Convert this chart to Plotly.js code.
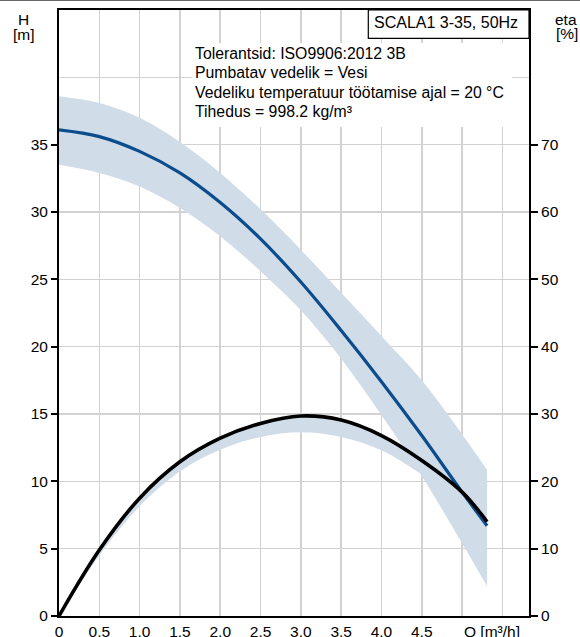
<!DOCTYPE html>
<html><head><meta charset="utf-8">
<script src="https://cdn.plot.ly/plotly-3.0.1.min.js"></script>
<style>
html,body{margin:0;padding:0;background:#fff;}
#chart{width:580px;height:637px;}
#topline{position:absolute;left:0;top:0;width:580px;height:1px;background:#666;z-index:5;}
</style>
</head><body>
<div id="topline"></div>
<div id="chart"></div>
<script>
// ---- data ----
const flowQ      = [0, 0.5, 1.0, 1.5, 2.0, 2.5, 3.0, 3.5, 4.0, 4.5, 5.0, 5.31];
const headH      = [36.1, 35.6, 34.5, 32.9, 30.7, 28.0, 24.8, 21.2, 17.4, 13.4, 9.2, 6.7];
const headUpper  = [38.6, 38.1, 37.0, 35.2, 32.9, 30.2, 27.2, 24.0, 20.8, 17.5, 13.5, 10.85];
const headLower  = [33.5, 32.9, 31.9, 30.3, 28.2, 25.6, 22.7, 19.1, 14.9, 10.4, 5.4, 2.2];
const etaPct     = [0, 9.8, 17.5, 22.9, 26.4, 28.6, 29.7, 29.1, 26.8, 23.1, 18.4, 14.0];
const etaLower   = [0, 9.0, 16.3, 21.5, 24.7, 26.6, 27.3, 26.6, 24.6, 21.0, 16.7, 12.8];

const xGridVals  = [0, 0.5, 1.0, 1.5, 2.0, 2.5, 3.0, 3.5, 4.0, 4.5, 5.0, 5.5];
const xTickText  = ['0', '0.5', '1.0', '1.5', '2.0', '2.5', '3.0', '3.5', '4.0', '4.5', '', ''];
const hTickVals  = [0, 5, 10, 15, 20, 25, 30, 35];
const etaTickVals= [0, 10, 20, 30, 40, 50, 60, 70];
const xAxisLabel = 'Q [m³/h]';
const hTitle     = ['H', '[m]'];
const etaTitle   = ['eta', '[%]'];
const boxTitle   = 'SCALA1 3-35, 50Hz';
const infoLines  = [
  'Tolerantsid: ISO9906:2012 3B',
  'Pumbatav vedelik = Vesi',
  'Vedeliku temperatuur töötamise ajal = 20 °C',
  'Tihedus = 998.2 kg/m³'
];

// ---- styles ----
const FONT = 'Liberation Sans, Arial, sans-serif';
const BAND = 'rgb(208,220,232)';
const BLUE = '#0a4c8c';
const GRID = 'rgb(210,210,210)';

const traces = [
  {x: flowQ, y: headLower, xaxis:'x', yaxis:'y', mode:'lines', line:{width:0, shape:'spline', color:BAND}, hoverinfo:'skip'},
  {x: flowQ, y: headUpper, xaxis:'x', yaxis:'y', mode:'lines', line:{width:0, shape:'spline', color:BAND}, fill:'tonexty', fillcolor:BAND, hoverinfo:'skip'},
  {x: flowQ, y: etaLower, xaxis:'x', yaxis:'y2', mode:'lines', line:{width:0, shape:'spline', color:BAND}, hoverinfo:'skip'},
  {x: flowQ, y: etaPct, xaxis:'x', yaxis:'y2', mode:'lines', line:{width:0, shape:'spline', color:BAND}, fill:'tonexty', fillcolor:BAND, hoverinfo:'skip'},
  {x: flowQ, y: headH, xaxis:'x', yaxis:'y3', mode:'lines', line:{width:3.2, shape:'spline', color:BLUE}},
  {x: flowQ, y: etaPct, xaxis:'x', yaxis:'y4', mode:'lines', line:{width:3.6, shape:'spline', color:'#000'}}
];

const PLOT_TOP = 10, PLOT_H = 606, PLOT_L = 59, PLOT_W = 470;
function py(pix){ return (PLOT_TOP + PLOT_H - pix) / PLOT_H; }
function px(pix){ return (pix - PLOT_L) / PLOT_W; }

const infoBaselines = [59.3, 78.3, 98.3, 117.3];
const INFO_FS = 15.8;
const infoAnns = infoLines.map((t, i) => ({
  xref:'paper', yref:'paper', x: px(193), y: py(infoBaselines[i] - 0.35 * INFO_FS),
  xanchor:'left', yanchor:'middle', align:'left', text: t, showarrow:false, font:{size: INFO_FS}
}));

const layout = {
  width: 580, height: 637,
  margin: {l: PLOT_L, r: 580 - PLOT_L - PLOT_W, t: PLOT_TOP, b: 637 - PLOT_TOP - PLOT_H, pad: 0},
  showlegend: false,
  paper_bgcolor: '#fff', plot_bgcolor: '#fff',
  font: {family: FONT, size: 15.5, color: '#000'},
  hovermode: false,
  xaxis: {range: [0, 5.83], tickvals: xGridVals, ticktext: xTickText, ticks: '',
          showgrid: true, gridcolor: GRID, gridwidth: 1.5, showline: true, linecolor: '#000',
          linewidth: 2, mirror: true, zeroline: false, fixedrange: true, tickfont:{size:15.5}},
  yaxis: {range: [0, 45], tick0: 0, dtick: 5, showgrid: true, gridcolor: GRID, gridwidth: 1.5,
          showticklabels: false, ticks: '', showline: true, linecolor: '#000', linewidth: 2, zeroline: false},
  yaxis2: {overlaying: 'y', side: 'right', range: [0, 90], tickvals: etaTickVals, ticks: 'outside',
           ticklen: 7, tickwidth: 2, tickcolor: '#000', showline: true, linecolor: '#000', linewidth: 2,
           showgrid: false, zeroline: false, tickfont:{size:15.5}},
  yaxis3: {overlaying: 'y', side: 'left', range: [0, 45], tickvals: hTickVals, ticks: 'outside',
           ticklen: 7, tickwidth: 2, tickcolor: '#000', showline: false, showgrid: false, zeroline: false,
           tickfont:{size:15.5}},
  yaxis4: {overlaying: 'y', side: 'right', range: [0, 90], visible: false},
  shapes: [
    {type:'rect', xref:'paper', yref:'paper', x0: px(192), x1: px(512), y0: py(127), y1: py(43),
     line:{width:0}, fillcolor:'#fff', layer:'above'},
    {type:'rect', xref:'paper', yref:'paper', x0: px(368.3), x1: 1, y0: py(38.3), y1: 1,
     line:{color:'#000', width:1.2}, fillcolor:'#fff', layer:'above'}
  ],
  annotations: [
    {xref:'paper', yref:'paper', x: px(372), y: py(22.1), xanchor:'left', yanchor:'middle',
     text: boxTitle, showarrow:false, font:{size:16}},
    ...infoAnns,
    {xref:'paper', yref:'paper', x: px(23.5), y: py(19.0), xanchor:'center', yanchor:'middle', text: hTitle[0], showarrow:false},
    {xref:'paper', yref:'paper', x: px(23.5), y: py(34.2), xanchor:'center', yanchor:'middle', text: hTitle[1], showarrow:false},
    {xref:'paper', yref:'paper', x: px(566), y: py(19.0), xanchor:'center', yanchor:'middle', text: etaTitle[0], showarrow:false},
    {xref:'paper', yref:'paper', x: px(567), y: py(33.8), xanchor:'center', yanchor:'middle', text: etaTitle[1], showarrow:false},
    {xref:'x', yref:'paper', x: 5.0, y: py(631.4), xanchor:'left', yanchor:'middle', text: xAxisLabel, showarrow:false}
  ]
};

Plotly.newPlot('chart', traces, layout, {displayModeBar:false, staticPlot:true});
</script>
</body></html>
